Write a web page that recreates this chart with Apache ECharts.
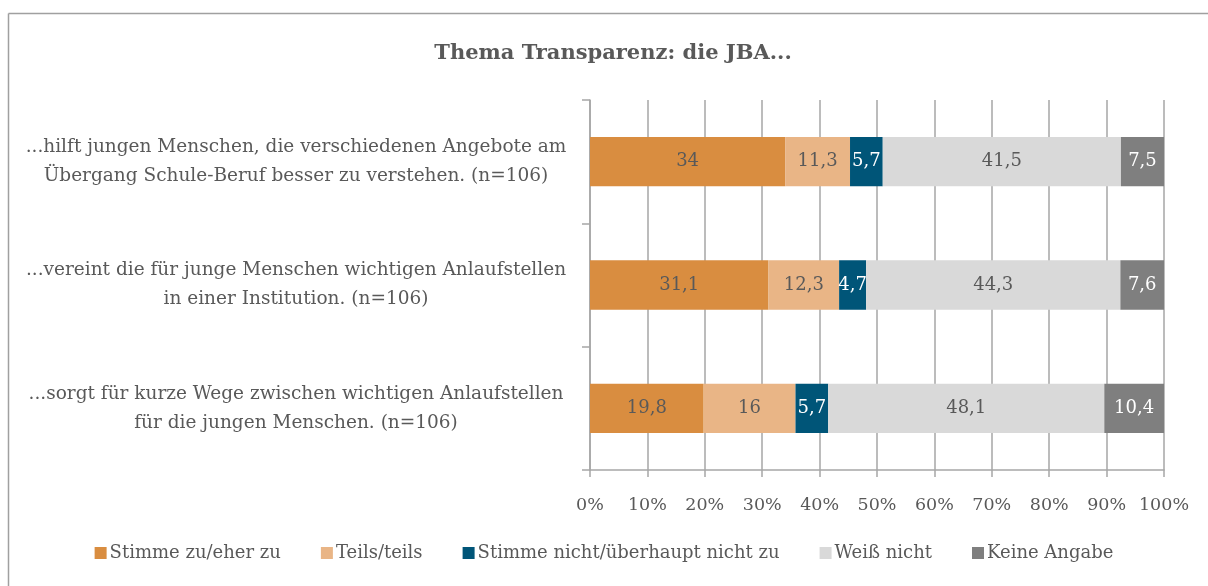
<!DOCTYPE html>
<html>
<head>
<meta charset="utf-8">
<script src="https://cdn.jsdelivr.net/npm/echarts@6/dist/echarts.min.js"></script>
<style>
  html, body { margin: 0; padding: 0; background: #fff; }
  #chart-container { width: 1208px; height: 586px; }
</style>
</head>
<body>
<div id="chart-container"></div>
<script>
var categories = [
  '...hilft jungen Menschen, die verschiedenen Angebote am\nÜbergang Schule-Beruf besser zu verstehen. (n=106)',
  '...vereint die für junge Menschen wichtigen Anlaufstellen\nin einer Institution. (n=106)',
  '...sorgt für kurze Wege zwischen wichtigen Anlaufstellen\nfür die jungen Menschen. (n=106)'
];
var seriesNames = ['Stimme zu/eher zu', 'Teils/teils', 'Stimme nicht/überhaupt nicht zu', 'Weiß nicht', 'Keine Angabe'];
var zuEherZu = [34, 31.1, 19.8];
var teilsTeils = [11.3, 12.3, 16];
var nichtZu = [5.7, 4.7, 5.7];
var weissNicht = [41.5, 44.3, 48.1];
var keineAngabe = [7.5, 7.6, 10.4];
var tickLabels = ['0%', '10%', '20%', '30%', '40%', '50%', '60%', '70%', '80%', '90%', '100%'];

var colors = ['#D98D40', '#E9B586', '#005578', '#D9D9D9', '#7F7F7F'];
var labelColors = ['#595959', '#595959', '#ffffff', '#595959', '#ffffff'];
var font = '"DejaVu Serif", serif';

var dom = document.getElementById('chart-container');
var myChart = echarts.init(dom, null, { renderer: 'canvas' });

function makeSeries(i, data) {
  return {
    name: seriesNames[i],
    type: 'bar',
    stack: 'total',
    barWidth: '40%',
    data: data,
    itemStyle: { color: colors[i] },
    label: {
      show: true,
      position: 'inside',
      color: labelColors[i],
      fontFamily: font,
      fontSize: 18,
      formatter: function (p) { return String(p.value).replace('.', ','); }
    }
  };
}

var option = {
  backgroundColor: '#ffffff',
  animation: false,
  color: colors,
  textStyle: { fontFamily: font },
  graphic: [
    { type: 'line', shape: { x1: 8.5, y1: 13.5, x2: 1208, y2: 13.5 }, style: { stroke: '#a0a0a0', lineWidth: 1.5 } },
    { type: 'line', shape: { x1: 8.5, y1: 13.5, x2: 8.5, y2: 586 }, style: { stroke: '#a0a0a0', lineWidth: 1.5 } },
    {
      type: 'text', x: 613, y: 54,
      style: {
        text: 'Thema Transparenz: die JBA...', fill: '#595959',
        font: 'bold 21px ' + font, textAlign: 'center', textVerticalAlign: 'middle'
      }
    }
  ],
  legend: {
    bottom: 19,
    left: 'center',
    itemWidth: 12,
    itemHeight: 12,
    itemGap: 40,
    icon: 'rect',
    textStyle: { color: '#595959', fontFamily: font, fontSize: 18, padding: [0, 0, 0, -2] },
    data: seriesNames
  },
  grid: { left: 590, right: 44, top: 100, bottom: 116, containLabel: false },
  xAxis: {
    type: 'value',
    min: 0,
    max: 100,
    interval: 10,
    axisLine: { show: true, lineStyle: { color: '#a6a6a6', width: 1.5 } },
    axisTick: { show: true, length: 7, lineStyle: { color: '#a6a6a6', width: 1.5 } },
    splitLine: { show: true, lineStyle: { color: '#a6a6a6', width: 1.5 } },
    axisLabel: {
      color: '#595959', fontFamily: font, fontSize: 17.5, margin: 26,
      formatter: function (v) { return tickLabels[Math.round(v / 10)]; }
    }
  },
  yAxis: {
    type: 'category',
    inverse: true,
    data: categories,
    axisLine: { show: true, lineStyle: { color: '#a6a6a6', width: 1.5 } },
    axisTick: { show: true, length: 8, lineStyle: { color: '#a6a6a6', width: 1.5 } },
    axisLabel: {
      color: '#595959', fontFamily: font, fontSize: 18.5, lineHeight: 29,
      align: 'center', margin: 294
    }
  },
  series: [
    makeSeries(0, zuEherZu),
    makeSeries(1, teilsTeils),
    makeSeries(2, nichtZu),
    makeSeries(3, weissNicht),
    makeSeries(4, keineAngabe)
  ]
};

myChart.setOption(option);
window.addEventListener('resize', myChart.resize);
</script>
</body>
</html>
